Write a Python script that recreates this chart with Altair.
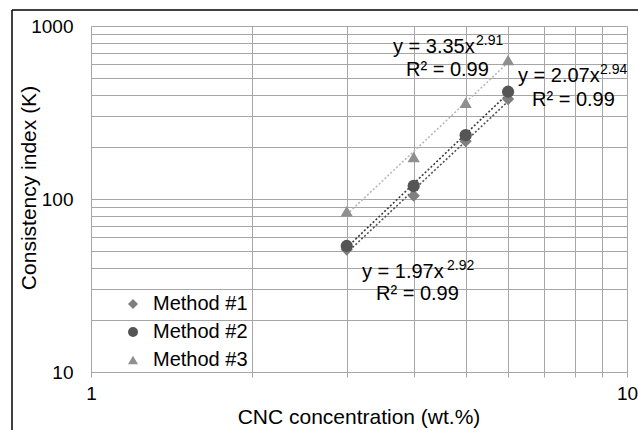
import altair as alt
import pandas as pd

# ---- data ----
methods = ["Method #1", "Method #2", "Method #3"]
conc = [3, 4, 5, 6]
k_m1 = [51, 104.5, 216, 378]
k_m2 = [53.5, 119, 234, 417]
k_m3 = [85, 175, 360, 636]

x_grid = [1, 2, 3, 4, 5, 6, 7, 8, 9, 10]
y_grid = [10, 20, 30, 40, 50, 60, 70, 80, 90, 100,
          200, 300, 400, 500, 600, 700, 800, 900, 1000]

fill_colors = ["#7f7f7f", "#555555", "#8f8f8f"]
line_colors = ["#555555", "#3a3a3a", "#b8b8b8"]
shapes = ["diamond", "circle", "triangle-up"]

rows = []
for m, ks in zip(methods, [k_m1, k_m2, k_m3]):
    for c, k in zip(conc, ks):
        rows.append({"method": m, "conc": c, "k": k})
df = pd.DataFrame(rows)

FONT = "Liberation Sans"
GRID = "#a6a6a6"

xscale = alt.Scale(type="log", domain=[1, 10])
yscale = alt.Scale(type="log", domain=[10, 1000])

xaxis = alt.Axis(values=x_grid, format="d",
                 labelExpr="datum.value == 1 || datum.value == 10 ? datum.label : ''",
                 grid=True, gridColor=GRID, gridWidth=1, domainColor=GRID,
                 tickColor=GRID, tickSize=5, labelFontSize=19, labelFont=FONT,
                 labelColor="black", labelPadding=7, labelOverlap=False,
                 labelFlush=False, title=None)
yaxis = alt.Axis(values=y_grid, format="d",
                 labelExpr="datum.value == 10 || datum.value == 100 || datum.value == 1000 ? datum.label : ''",
                 grid=True, gridColor=GRID, gridWidth=1, domainColor=GRID,
                 ticks=False, labelFontSize=19, labelFont=FONT,
                 labelColor="black", labelPadding=18, labelOverlap=False,
                 labelFlush=False, title=None)

leg = alt.Legend(title=None, orient="none", legendX=32, legendY=268,
                 labelFontSize=20, labelFont=FONT, labelColor="black",
                 labelOffset=10, rowPadding=8, symbolSize=100, padding=0)

line_layers = []
for m, lc in zip(methods, line_colors):
    line_layers.append(
        alt.Chart(df).transform_filter(alt.datum.method == m).transform_regression(
            "conc", "k", method="pow"
        ).mark_line(strokeDash=[2, 2], strokeWidth=1.6, color=lc).encode(
            x=alt.X("conc:Q", scale=xscale, axis=xaxis),
            y=alt.Y("k:Q", scale=yscale, axis=yaxis),
        )
    )

points = alt.Chart(df).mark_point(filled=True, opacity=1, size=150).encode(
    x=alt.X("conc:Q", scale=xscale, axis=xaxis),
    y=alt.Y("k:Q", scale=yscale, axis=yaxis),
    color=alt.Color("method:N", scale=alt.Scale(domain=methods, range=fill_colors), legend=leg),
    shape=alt.Shape("method:N", scale=alt.Scale(domain=methods, range=shapes), legend=leg),
)

one = pd.DataFrame({"a": [0]})


def label(txt, px, py, size=20, align="left", angle=0, baseline="alphabetic"):
    return alt.Chart(one).mark_text(
        font=FONT, fontSize=size, color="black", align=align,
        baseline=baseline, angle=angle
    ).encode(text=alt.value(txt), x=alt.value(px), y=alt.value(py))


OX, OY = 91, 26
ann = [
    label("y = 3.35x", 393 - OX, 53 - OY),
    label("2.91", 476 - OX, 45 - OY, size=14),
    label("R² = 0.99", 406 - OX, 76 - OY),
    label("y = 2.07x", 518 - OX, 82 - OY),
    label("2.94", 600 - OX, 74 - OY, size=14),
    label("R² = 0.99", 532 - OX, 106 - OY),
    label("y = 1.97x", 362 - OX, 278 - OY),
    label("2.92", 447 - OX, 270 - OY, size=14),
    label("R² = 0.99", 376 - OX, 300 - OY),
    label("CNC concentration (wt.%)", 359 - OX, 424 - OY, size=21, align="center"),
    label("Consistency index (K)", 30 - OX, 188 - OY, size=21, align="center", angle=270, baseline="middle"),
]

frame_left = alt.Chart(one).mark_rule(color="black", strokeWidth=1.5).encode(
    x=alt.value(12 - OX), y=alt.value(10 - OY), y2=alt.value(440 - OY))
frame_top = alt.Chart(one).mark_rule(color="black", strokeWidth=1.5).encode(
    x=alt.value(12 - OX), x2=alt.value(650 - OX), y=alt.value(10 - OY))

chart = alt.layer(*line_layers, points, *ann, frame_left, frame_top).properties(
    width=536, height=346,
    autosize=alt.AutoSizeParams(type="none"),
    padding={"left": 91, "top": 26, "right": 11, "bottom": 58},
    background="white",
).configure_view(stroke=None)

chart.save("out.html", embed_options={"renderer": "svg", "actions": False})
